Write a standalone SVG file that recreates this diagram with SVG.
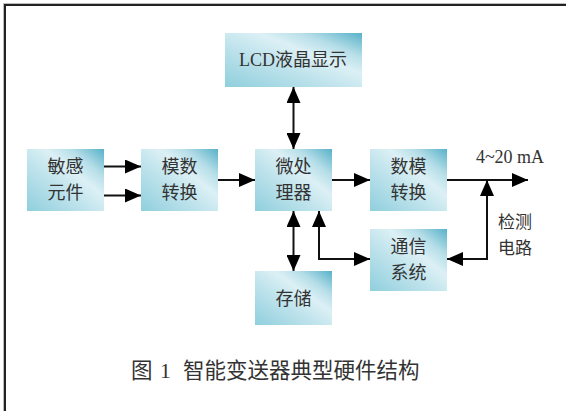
<svg xmlns="http://www.w3.org/2000/svg" width="566" height="411" viewBox="0 0 566 411">
<style>
.box{fill:url(#g);}
.t{font-family:"Noto Sans CJK SC","Liberation Serif",serif;font-size:18px;fill:#333;text-anchor:middle;}
.lat{font-family:"Liberation Serif","Noto Sans CJK SC",serif;}
.c{fill:none;stroke:#111;stroke-width:2;}
</style>
<defs>
<linearGradient id="g" x1="0" y1="1" x2="1" y2="0">
<stop offset="0" stop-color="#8fcfdd"/>
<stop offset="0.4" stop-color="#bfe3ec"/>
<stop offset="0.62" stop-color="#dcf0f5"/>
<stop offset="0.78" stop-color="#b6dee8"/>
<stop offset="1" stop-color="#58b1c9"/>
</linearGradient>
<marker id="a" markerUnits="userSpaceOnUse" markerWidth="16" markerHeight="14" refX="16" refY="7" orient="auto-start-reverse" viewBox="0 0 16 14">
<path d="M0,0 L16,7 L0,14 z" fill="#000"/>
</marker>
</defs>
<rect width="566" height="411" fill="#fff"/>
<path d="M3.5,411 V3.5 H566" fill="none" stroke="#bbb" stroke-width="1"/>
<path d="M5,411 V5 H566" fill="none" stroke="#222" stroke-width="2"/>

<g id="lcd"><rect class="box" x="225" y="33" width="137" height="54"/><text class="t" x="293" y="66"><tspan class="lat">LCD</tspan>液晶显示</text></g>
<g id="sensor"><rect class="box" x="27" y="149" width="77" height="62"/><text class="t" x="65.5" y="173">敏感</text><text class="t" x="65.5" y="199">元件</text></g>
<g id="adc"><rect class="box" x="141" y="149" width="77" height="62"/><text class="t" x="179.5" y="173">模数</text><text class="t" x="179.5" y="199">转换</text></g>
<g id="mcu"><rect class="box" x="255" y="149" width="77" height="62"/><text class="t" x="293.5" y="173">微处</text><text class="t" x="293.5" y="199">理器</text></g>
<g id="dac"><rect class="box" x="370" y="149" width="77" height="62"/><text class="t" x="408.5" y="173">数模</text><text class="t" x="408.5" y="199">转换</text></g>
<g id="comm"><rect class="box" x="370" y="229" width="77" height="62"/><text class="t" x="408.5" y="253">通信</text><text class="t" x="408.5" y="279">系统</text></g>
<g id="storage"><rect class="box" x="255" y="271" width="77" height="54"/><text class="t" x="293.5" y="305">存储</text></g>

<g id="labels">
<text class="t lat" x="510" y="163">4~20 mA</text>
<text class="t" style="font-size:17px" x="515" y="228">检测</text>
<text class="t" style="font-size:17px" x="515" y="253.5">电路</text>
<text style="font-family:'Noto Sans CJK SC','Liberation Serif',serif;font-size:21.5px;fill:#333;" x="131" y="378">图<tspan class="lat" x="160">1</tspan><tspan x="183">智能变送器典型硬件结构</tspan></text>
</g>

<g id="connectors">
<path class="c" d="M104,166.5 H141" marker-end="url(#a)"/>
<path class="c" d="M104,195.5 H141" marker-end="url(#a)"/>
<path class="c" d="M218,180 H255" marker-end="url(#a)"/>
<path class="c" d="M332,180 H370" marker-end="url(#a)"/>
<path class="c" d="M447,180 H528" marker-end="url(#a)"/>
<path class="c" d="M293.5,87 V149" marker-start="url(#a)" marker-end="url(#a)"/>
<path class="c" d="M293.5,211 V271" marker-start="url(#a)" marker-end="url(#a)"/>
<path class="c" d="M319,211 V259 H370" marker-start="url(#a)" marker-end="url(#a)"/>
<path class="c" d="M447,259 H487 V180" marker-start="url(#a)" marker-end="url(#a)"/>
</g>
</svg>
